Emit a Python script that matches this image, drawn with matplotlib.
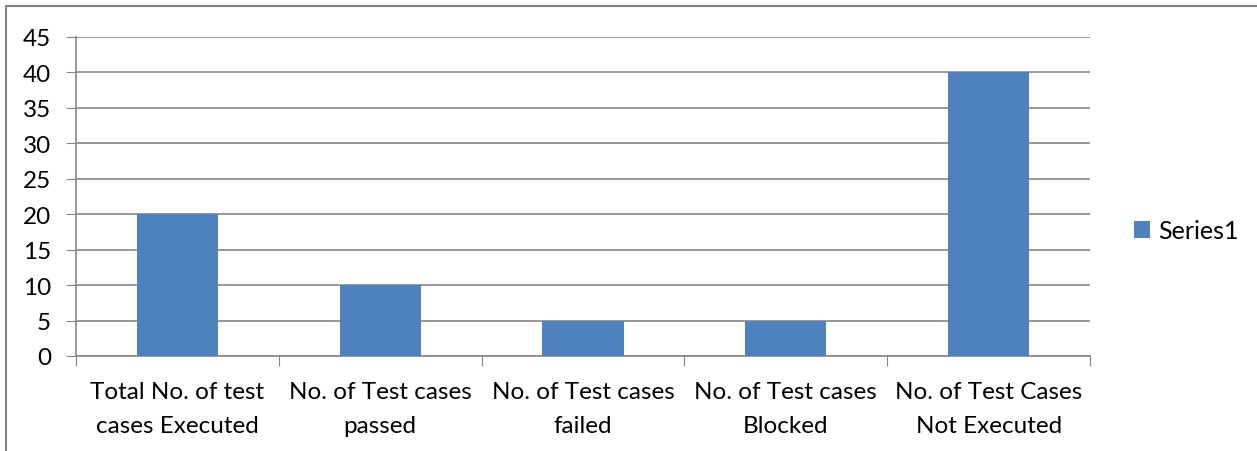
import matplotlib.pyplot as plt
from matplotlib.patches import Rectangle

# Data
categories = ['Total No. of test\ncases Executed', 'No. of Test cases\npassed',
              'No. of Test cases\nfailed', 'No. of Test cases\nBlocked',
              'No. of Test Cases\nNot Executed']
values = [20, 10, 5, 5, 40]
series_name = 'Series1'

bar_color = '#4F81BD'
grid_color = '#868686'

plt.rcParams['font.family'] = ['Lato', 'DejaVu Sans']

fig = plt.figure(figsize=(12.57, 4.52), dpi=100)
ax = fig.add_axes([76 / 1257, 1 - 357 / 452, (1090 - 76) / 1257, (357 - 38) / 452])

# outer chart border (cut at right/bottom like the reference)
fig.patches.append(Rectangle((6 / 1257, -0.1), 1.2, 1 - 7 / 452 + 0.1, transform=fig.transFigure,
                             fill=False, edgecolor='#868686', linewidth=1.5))

x = range(len(categories))
bars = ax.bar(x, values, width=0.4, color=bar_color, label=series_name, zorder=3)

ax.set_xlim(-0.5, len(categories) - 0.5)
ax.set_ylim(0, 45)
ax.set_yticks(range(0, 46, 5))
ax.tick_params(axis='y', length=7, color=grid_color, labelsize=17.5, pad=11)
ax.yaxis.grid(True, color=grid_color, linewidth=1.2, zorder=0)

# category labels between boundary ticks
ax.set_xticks([i - 0.5 for i in range(len(categories) + 1)], minor=False)
ax.set_xticklabels([])
ax.tick_params(axis='x', length=7, color=grid_color)
ax.set_xticks(list(x), minor=True)
ax.set_xticklabels(categories, minor=True, fontsize=17.5, linespacing=1.75)
ax.tick_params(axis='x', which='minor', length=0, pad=18)

for side in ['top', 'right']:
    ax.spines[side].set_visible(False)
for side in ['left', 'bottom']:
    ax.spines[side].set_color(grid_color)
    ax.spines[side].set_linewidth(1.2)

leg = fig.legend(handles=[bars], labels=[series_name], loc='center left',
                 bbox_to_anchor=(1111 / 1257, 1 - 232 / 452), frameon=False,
                 fontsize=18, handlelength=0.65, handleheight=0.65, handletextpad=0.35)

fig.savefig('out.png', dpi=100)
